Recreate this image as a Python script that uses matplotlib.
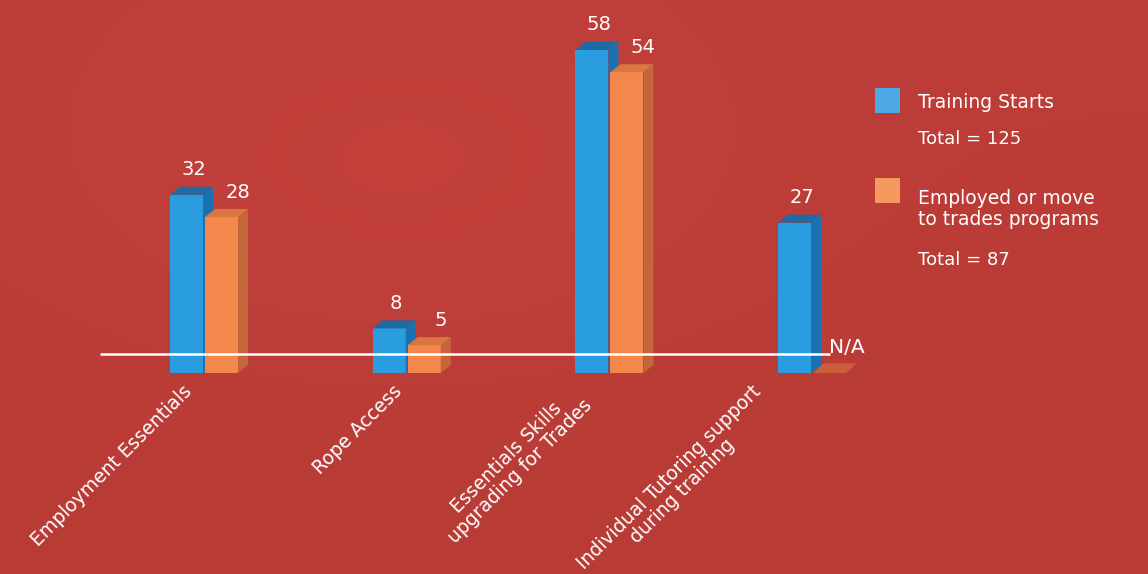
import numpy as np
import matplotlib
matplotlib.use("Agg")
import matplotlib.pyplot as plt
from matplotlib.patches import Polygon, Rectangle

# ---- data ----
categories = ["Employment Essentials", "Rope Access",
              "Essentials Skills\nupgrading for Trades",
              "Individual Tutoring support\nduring training"]
training_starts = [32, 8, 58, 27]
employed = [28, 5, 54, None]          # None -> N/A
legend_labels = ["Training Starts", "Total = 125",
                 "Employed or move\nto trades programs", "Total = 87"]

BG = "#bb403b"
BLUE, BLUE_SIDE, BLUE_TOP = "#2a9de0", "#1b72b2", "#1f6aa3"
ORANGE, ORANGE_SIDE, ORANGE_TOP = "#f4874b", "#c4663a", "#d9773f"

W, H = 1148, 574
fig = plt.figure(figsize=(W / 100, H / 100), dpi=100)
fig.patch.set_facecolor(BG)
ax = fig.add_axes([0, 0, 1, 1])
ax.set_axis_off()

pxx = 202.7        # px per x unit
pxy = 5.57         # px per y unit
x0px, y0px = 204, 373
xmin, xmax = -x0px / pxx, (W - x0px) / pxx
ymin, ymax = -(H - y0px) / pxy, y0px / pxy
ax.set_xlim(xmin, xmax)
ax.set_ylim(ymin, ymax)

# background gradient (decorative)
gy, gx = np.mgrid[0:1:200j, 0:1:400j]
base = np.array([0.74, 0.24, 0.22])
shade = 0.03 * np.exp(-((gx - 0.35) ** 2 / 0.08 + (gy - 0.3) ** 2 / 0.1)) - 0.015 * gy
img = np.clip(base[None, None, :] + shade[..., None] * np.array([1.0, 0.5, 0.5]), 0, 1)
ax.imshow(img, extent=[xmin, xmax, ymin, ymax], origin="upper", aspect="auto", zorder=0)

x = np.arange(len(categories))
bw = 0.163
gap = 0.005
dx = 10 / pxx
dy = 8 / pxy


def bar3d(left, val, front, side, top, z, alpha=1.0):
    ax.bar(left, val, width=bw, bottom=0, align="edge", color=front,
           zorder=z, linewidth=0, alpha=alpha)
    ax.add_patch(Polygon([(left + bw, 0), (left + bw + dx, dy),
                          (left + bw + dx, val + dy), (left + bw, val)],
                         closed=True, facecolor=side, edgecolor="none",
                         zorder=z, alpha=alpha))
    ax.add_patch(Polygon([(left, val), (left + bw, val),
                          (left + bw + dx, val + dy), (left + dx, val + dy)],
                         closed=True, facecolor=top, edgecolor="none",
                         zorder=z, alpha=alpha))


for i in range(len(categories)):
    lb = x[i] - bw - gap
    bar3d(lb, training_starts[i], BLUE, BLUE_SIDE, BLUE_TOP, 3)
    ax.annotate(str(training_starts[i]), (lb + bw / 2 + 0.035, training_starts[i]),
                xytext=(0, 18), textcoords="offset points", ha="center",
                va="center", color="white", fontsize=14, zorder=6)
    lo = x[i] + gap
    if employed[i] is None:
        ax.add_patch(Polygon([(lo, 0), (lo + bw, 0), (lo + bw + dx, dy * 1.2),
                              (lo + dx, dy * 1.2)], closed=True,
                             facecolor=ORANGE_TOP, edgecolor="none",
                             alpha=0.6, zorder=2))
        ax.text(lo + 0.08, 4.6, "N/A", color="white", fontsize=14.5,
                ha="left", va="center", zorder=6)
    else:
        bar3d(lo, employed[i], ORANGE, ORANGE_SIDE, ORANGE_TOP, 4)
        ax.annotate(str(employed[i]), (lo + bw / 2 + 0.08, employed[i]),
                    xytext=(0, 18), textcoords="offset points", ha="center",
                    va="center", color="white", fontsize=14, zorder=6)

# baseline
ax.plot([(100 - x0px) / pxx, (830 - x0px) / pxx], [19 / pxy, 19 / pxy],
        color="white", linewidth=1.8, zorder=5, solid_capstyle="butt")

# category labels
label_off = [-0.105, -0.07, -0.2, -0.30]
for i, lab in enumerate(categories):
    ax.text(x[i] + label_off[i], -1.6, lab, rotation=45, rotation_mode="anchor",
            ha="right", va="top", multialignment="center", color="white",
            fontsize=13.5, zorder=6, linespacing=1.0)

# legend (manual)
def fx(px):
    return px / W


def fy(py):
    return 1 - py / H


fig.patches.append(Rectangle((fx(875), fy(113)), 25 / W, 25 / H,
                             transform=fig.transFigure, facecolor="#4fa8e6",
                             edgecolor="none", zorder=7))
fig.patches.append(Rectangle((fx(875), fy(203)), 25 / W, 25 / H,
                             transform=fig.transFigure, facecolor="#f59a5e",
                             edgecolor="none", zorder=7))
fig.text(fx(918), fy(103), legend_labels[0], color="white", fontsize=13.5, va="center")
fig.text(fx(918), fy(139), legend_labels[1], color="white", fontsize=13, va="center")
fig.text(fx(918), fy(209), legend_labels[2], color="white", fontsize=13.5,
         va="center", linespacing=1.15)
fig.text(fx(918), fy(260), legend_labels[3], color="white", fontsize=13, va="center")

fig.savefig("out.png", dpi=100, facecolor=BG)
